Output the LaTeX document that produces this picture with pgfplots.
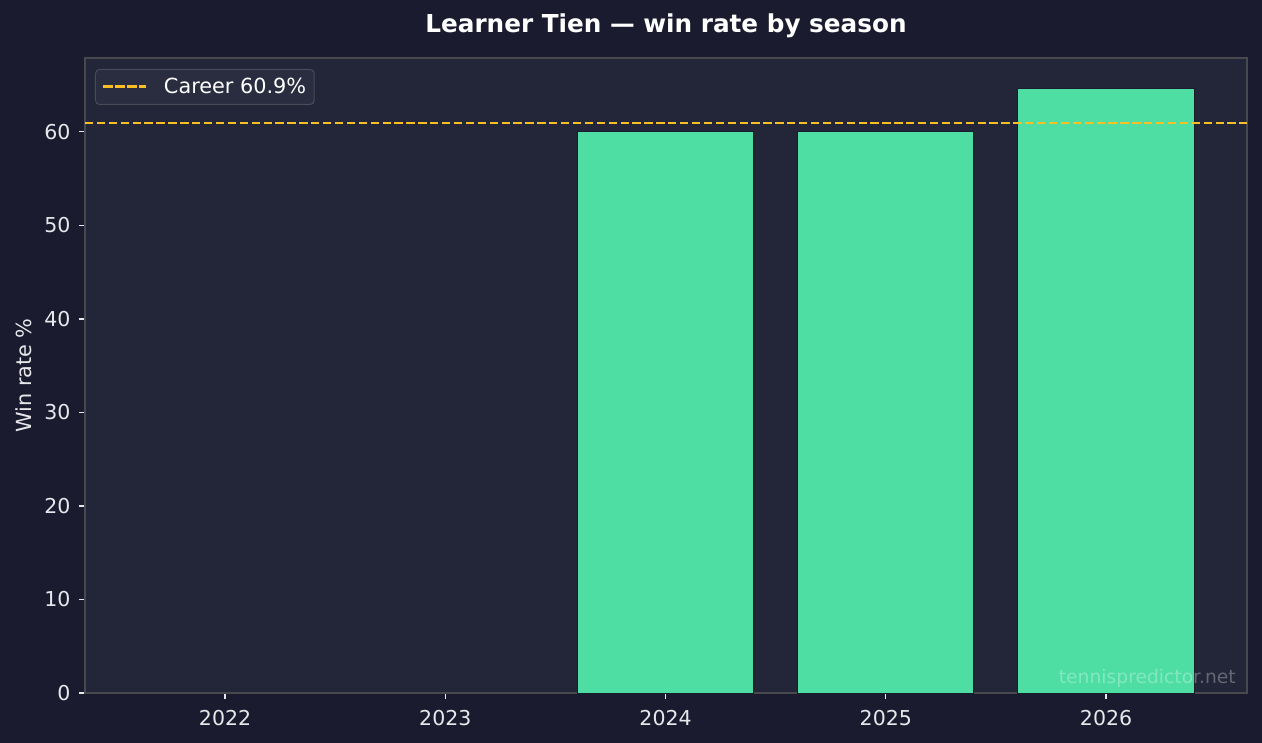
\documentclass[border=0pt]{standalone}
\usepackage{fontspec}
\setmainfont{DejaVu Sans}
\usepackage{pgfplots}
\pgfplotsset{compat=1.18}
\definecolor{figbg}{HTML}{1A1B2E}
\definecolor{axbg}{HTML}{232538}
\definecolor{bargreen}{HTML}{4EDEA3}
\definecolor{amberline}{HTML}{FBBF24}
\definecolor{spine}{HTML}{48484F}
\definecolor{ticktext}{HTML}{E8E8EC}
\definecolor{legbg}{HTML}{2A2C3F}
\definecolor{legedge}{HTML}{4A4B58}
\tikzset{careerdash/.style={dash pattern=on 8.3bp off 3.6bp}}
\begin{document}
\begin{tikzpicture}
\fill[figbg] (-85bp,-50bp) rectangle (1177bp,693bp);
\begin{axis}[
  at={(0,0)}, anchor=south west,
  scale only axis, width=1162bp, height=635bp,
  xmin=-0.636, xmax=4.64, ymin=0, ymax=67.9,
  axis background/.style={fill=axbg},
  axis line style={draw=spine, line width=1.2bp},
  xtick={0,1,2,3,4}, xticklabels={2022,2023,2024,2025,2026},
  ytick={0,10,...,60},
  xtick pos=bottom, ytick pos=left,
  tick align=outside, major tick length=6bp,
  xtick style={ticktext, line width=1.2bp},
  ytick style={ticktext, line width=1.2bp},
  ticklabel style={font=\fontsize{20.5bp}{23bp}\selectfont, text=ticktext},
  xticklabel style={yshift=-8bp},
  yticklabel style={xshift=-5bp},
  /pgf/number format/assume math mode=true,
  ylabel={Win rate \%},
  every axis y label/.style={at={([xshift=-61bp]axis description cs:0,0.5)}, rotate=90, anchor=center, font=\fontsize{20.8bp}{23bp}\selectfont, text=ticktext},
  legend style={at={(axis description cs:0,1)}, anchor=north west, xshift=10bp, yshift=-11bp,
    fill=legbg, draw=legedge, rounded corners=4bp, text=white, line width=1bp,
    font=\fontsize{20.8bp}{23bp}\selectfont, inner xsep=8bp, inner ysep=0bp,
    nodes={inner sep=0pt}},
  legend cell align=left,
  legend image code/.code={%
    \fill[amberline, sharp corners] (0bp,-1bp) rectangle (8.3bp,1bp);
    \fill[amberline, sharp corners] (11.9bp,-1bp) rectangle (20.2bp,1bp);
    \fill[amberline, sharp corners] (23.8bp,-1bp) rectangle (32.1bp,1bp);
    \fill[amberline, sharp corners] (35.7bp,-1bp) rectangle (42bp,1bp);
    \path[draw=none, fill=none] (0bp,-17.5bp) rectangle (60bp,17.5bp);},
]
\addplot[ybar, bar width=0.8, fill=bargreen, draw=figbg, line width=1bp, forget plot]
  coordinates {(2,60.0) (3,60.0) (4,64.6)};
\addplot[amberline, line width=2bp, careerdash, forget plot]
  coordinates {(-0.636,60.9) (4.64,60.9)};
\addlegendimage{amberline}
\addlegendentry{Career 60.9\%}
\node[anchor=east, text=white, text opacity=0.3, font=\fontsize{18.7bp}{21bp}\selectfont, inner sep=0pt]
  at (rel axis cs:0.9905,0.0236) {tennispredictor.net};
\end{axis}
\node[font=\bfseries\fontsize{24.7bp}{28bp}\selectfont, text=white] at (581bp,667bp) {Learner Tien — win rate by season};
\pgfresetboundingbox
\path[use as bounding box] (-85bp,-50bp) rectangle (1177bp,693bp);
\end{tikzpicture}
\end{document}
